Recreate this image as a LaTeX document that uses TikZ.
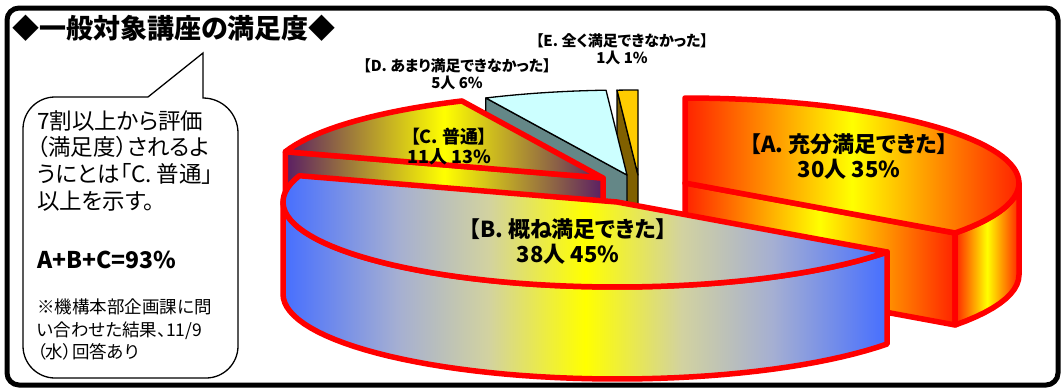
\documentclass[tikz,border=0pt]{standalone}
\usepackage{fontspec}
\setmainfont[RawFeature=+palt]{Noto Sans CJK JP}
\usetikzlibrary{positioning}

\newcommand\fsz[2]{\fontsize{#1}{#2}\selectfont}

\definecolor{fireRed}{RGB}{255,35,0}
\definecolor{fireYellow}{RGB}{255,255,0}
\definecolor{blueB}{RGB}{70,110,255}
\definecolor{grayB}{RGB}{165,175,210}
\definecolor{paleB}{RGB}{210,210,160}
\definecolor{purpleC}{RGB}{90,30,100}
\definecolor{cyanD}{RGB}{204,255,255}
\definecolor{tealD}{RGB}{100,135,135}
\definecolor{goldE}{RGB}{255,204,0}
\definecolor{brownE}{RGB}{128,96,0}

\pgfdeclarehorizontalshading{shadeA}{100bp}{color(0bp)=(fireRed); color(25bp)=(fireRed); color(50bp)=(fireYellow); color(75bp)=(fireRed); color(100bp)=(fireRed)}
\pgfdeclarehorizontalshading{shadeB}{100bp}{color(0bp)=(blueB); color(25bp)=(blueB); color(34.5bp)=(grayB); color(42bp)=(paleB); color(50bp)=(fireYellow); color(58bp)=(paleB); color(65.5bp)=(grayB); color(75bp)=(blueB); color(100bp)=(blueB)}
\pgfdeclarehorizontalshading{shadeC}{100bp}{color(0bp)=(purpleC); color(25bp)=(purpleC); color(50bp)=(fireYellow); color(75bp)=(purpleC); color(100bp)=(purpleC)}

\begin{document}
\begin{tikzpicture}[x=1pt,y=-1pt,
  redslice/.style={draw=red,line width=5.5pt,line join=round},
  blackslice/.style={draw=black,line width=1.3pt,line join=round},
  pielabel/.style={font=\bfseries\fsz{22}{25},align=center,inner sep=0pt},
  smalllabel/.style={font=\bfseries\fsz{15}{17},align=center,inner sep=0pt}]
\useasboundingbox (0,0) rectangle (1061,389);
\draw[line width=5pt,rounded corners=12pt] (7,8) rectangle (1058,385);
\node[anchor=west,inner sep=0pt,font=\bfseries\fsz{27}{27}] (title) at (12,28) {◆一般対象講座の満足度◆};

% callout
\draw[line width=1.3pt,fill=white] (148,97) -- (55,97) arc[start angle=270,end angle=180,radius=32]
  -- (23,346) arc[start angle=180,end angle=90,radius=32] -- (206,378) arc[start angle=90,end angle=0,radius=32]
  -- (238,133) arc[start angle=0,end angle=-90,radius=35] -- (203,53) -- cycle;
\node[anchor=north west,align=left,inner sep=0pt,font=\fsz{22.5}{26.7}] (note) at (37,110) {7割以上から評価\\（満足度）されるよ\\うにとは「C. 普通」\\以上を示す。};
\node[anchor=west,inner sep=0pt,font=\bfseries\fsz{23}{23}] (total) at (37,260) {A+B+C=93\%};
\node[anchor=north west,align=left,inner sep=0pt,font=\fsz{17.5}{22.5}] (source) at (37,299) {※機構本部企画課に問\\い合わせた結果、11/9\\（水）回答あり};

% E
\draw[blackslice,fill=brownE] (638,175) -- (617,90) -- (617,182) -- (638,267) -- cycle;
\draw[blackslice,fill=goldE] (638,175) -- plot[domain=90:93.6,samples=4] ({638+334*cos(\x)},{175-85*sin(\x)}) -- cycle;
% D
\draw[blackslice,fill=tealD] (627,175) -- (485.8,98) -- (485.8,190) -- (627,267) -- cycle;
\draw[blackslice,fill=cyanD] (627,175) -- plot[domain=115:93.6,samples=12] ({627+334*cos(\x)},{175-85*sin(\x)}) -- cycle;
% C
\shadedraw[redslice,shading=shadeC] (603,178) -- (285.3,151.7) -- (285.3,243.7) -- (603,270) -- cycle;
\shadedraw[redslice,shading=shadeC] (603,178) -- plot[domain=162:115,samples=20] ({603+334*cos(\x)},{178-85*sin(\x)}) -- cycle;
% A
\shadedraw[redslice,shading=shadeA] (685,183) -- (955.2,233) -- (955.2,325) -- (685,275) -- cycle;
\shadedraw[redslice,shading=shadeA] plot[domain=-36:0,samples=12] ({685+334*cos(\x)},{183-85*sin(\x)})
  -- plot[domain=0:-36,samples=12] ({685+334*cos(\x)},{275-85*sin(\x)}) -- cycle;
\shadedraw[redslice,shading=shadeA] (685,183) -- plot[domain=90:-36,samples=50] ({685+334*cos(\x)},{183-85*sin(\x)}) -- cycle;
% B
\shadedraw[redslice,shading=shadeB] plot[domain=180:324,samples=50] ({617+334*cos(\x)},{202-85*sin(\x)})
  -- plot[domain=324:180,samples=50] ({617+334*cos(\x)},{294-85*sin(\x)}) -- cycle;
\shadedraw[redslice,shading=shadeB] (617,202) -- plot[domain=162:324,samples=60] ({617+334*cos(\x)},{202-85*sin(\x)}) -- cycle;

% labels
\node[pielabel] (labA) at (849,157) {【A. 充分満足できた】\\30人 35\%};
\node[pielabel] (labB) at (568,242) {【B. 概ね満足できた】\\38人 45\%};
\node[pielabel,font=\bfseries\fsz{18}{20}] (labC) at (449,147) {【C. 普通】\\11人 13\%};
\node[smalllabel] (labD) at (457,74) {【D. あまり満足できなかった】\\5人 6\%};
\node[smalllabel] (labE) at (622,49) {【E. 全く満足できなかった】\\1人 1\%};
\end{tikzpicture}
\end{document}
